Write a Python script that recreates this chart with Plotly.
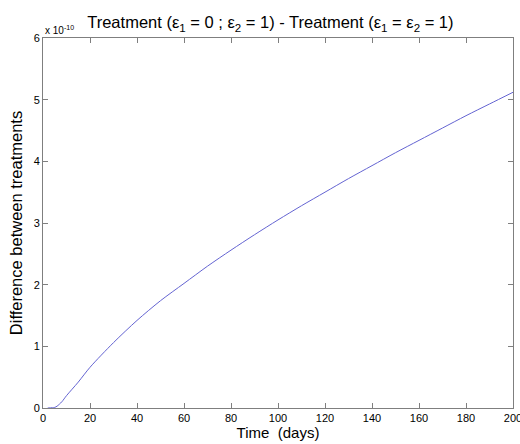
import plotly.graph_objects as go

# Time (days) and difference between treatments (in units of 1e-10)
time_days = [2, 4, 5, 6, 8, 10, 15, 20, 30, 40, 50, 60, 70, 80, 90, 100, 110, 120,
             130, 140, 150, 160, 170, 180, 190, 200]
diff_e10 = [0.0, 0.005, 0.01, 0.03, 0.1, 0.2, 0.42, 0.66, 1.06, 1.42, 1.74, 2.02,
            2.30, 2.56, 2.81, 3.05, 3.28, 3.50, 3.72, 3.93, 4.14, 4.34, 4.54,
            4.74, 4.93, 5.12]

x_ticks = [0, 20, 40, 60, 80, 100, 120, 140, 160, 180, 200]
y_ticks = [0, 1, 2, 3, 4, 5, 6]

font = "Liberation Sans, Arial, sans-serif"
axis_grey = "#7f7f7f"

fig = go.Figure()
fig.add_trace(go.Scatter(
    x=time_days, y=diff_e10, mode="lines",
    line=dict(color="#6464d2", width=1, shape="spline", smoothing=0.8),
    showlegend=False,
))

common = dict(
    showgrid=False, zeroline=False, showline=True, linecolor=axis_grey, linewidth=1,
    mirror="ticks", ticks="inside", ticklen=5, tickcolor=axis_grey,
    tickfont=dict(family=font, size=11, color="black"),
    ticklabeloverflow="allow", automargin=False,
)

fig.update_layout(
    width=520, height=444,
    margin=dict(l=43, r=7, t=38, b=36),
    paper_bgcolor="white", plot_bgcolor="white",
    font=dict(family=font, color="black"),
    title=dict(
        text="Treatment (ε<sub>1</sub> = 0 ; ε<sub>2</sub> = 1) - Treatment (ε<sub>1</sub> = ε<sub>2</sub> = 1)",
        x=0.52, xanchor="center", y=0.962, yanchor="top",
        font=dict(family=font, size=16.5, color="black"),
    ),
    xaxis=dict(range=[0, 200], tickvals=x_ticks,
               title=dict(text="Time  (days)", font=dict(family=font, size=15), standoff=2),
               **common),
    yaxis=dict(range=[0, 6], tickvals=y_ticks,
               title=dict(text="Difference between treatments", font=dict(family=font, size=16.5), standoff=6),
               **common),
    annotations=[dict(
        text="x 10<sup>-10</sup>", xref="paper", yref="paper", x=0.0, y=1.0,
        xanchor="left", yanchor="bottom", showarrow=False,
        font=dict(family=font, size=10, color="black"),
    )],
)

fig.write_html("out.html")
